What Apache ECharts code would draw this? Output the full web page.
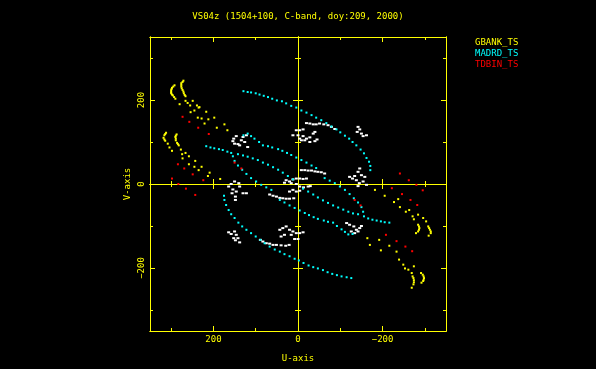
<!DOCTYPE html>
<html>
<head>
<meta charset="utf-8">
<script src="https://cdn.jsdelivr.net/npm/echarts@6/dist/echarts.min.js"></script>
<style>
html,body{margin:0;padding:0;background:#000;}
#chart{width:596px;height:369px;}
</style>
</head>
<body>
<div id="chart"></div>
<script>
// ---- data (u, v in units) ----
const titleText = 'VS04z (1504+100, C-band, doy:209, 2000)';
const seriesNames = ['GBANK_TS', 'MADRD_TS', 'TDBIN_TS'];
const majorTicks = [-200, 0, 200];
const minorTicks = [-300, -100, 100, 300];
const axisMin = -350;
const axisMax = 350;

const gbankPoints = [
  [292,235],[295,232],[298,229],[299,226],[300,223],[300,219],[300,216],[298,213],[296,211],[293,207],[290,203],
  [271,246],[273,243],[276,240],[276,236],[276,232],[275,228],[273,224],[271,220],[270,216],[268,212],[266,209],
  [280,190],[266,198],[261,193],[255,187],[249,198],[239,187],[235,182],[245,175],[233,183],[254,171],[237,158],[217,172],[228,156],[212,154],[198,158],[221,144],[192,134],[174,142],[167,128],
  [312,122],[314,119],[316,116],[318,110],[316,106],[314,103],[308,96],
  [287,118],[289,115],[290,112],[289,108],[289,104],[286,98],[284,95],[282,92],
  [304,87],[298,79],[277,82],[274,71],[266,74],[258,66],[273,61],[258,47],[243,55],[245,41],[228,41],[235,33],[209,27],[213,19],[184,12],
  [-182,-14],[-205,-28],[-227,-43],[-237,-36],[-241,-55],[-255,-66],[-263,-62],[-271,-77],[-274,-84],[-284,-73],[-296,-81],[-303,-89],
  [-284,-97],[-286,-101],[-287,-105],[-286,-109],[-284,-113],[-279,-117],
  [-308,-101],[-310,-105],[-312,-109],[-314,-113],[-314,-117],[-309,-123],
  [-164,-129],[-170,-145],[-192,-133],[-196,-158],[-216,-147],[-233,-161],[-239,-180],[-249,-192],[-253,-201],[-261,-204],[-269,-212],[-274,-196],[-291,-212],
  [-271,-220],[-273,-224],[-274,-229],[-274,-234],[-273,-239],[-269,-247],
  [-295,-216],[-297,-220],[-298,-224],[-297,-228],[-296,-231],[-292,-235]
];

const madrdPoints = [
  // long outer track (upper)
  [129,221],[119,219],[111,218],[100,216],[91,213],[81,210],[71,207],[61,203],[50,199],[38,197],[28,192],[16,186],[4,182],[-8,175],[-20,170],[-32,164],[-43,158],[-55,152],[-67,145],[-79,137],[-91,130],[-100,123],[-111,115],[-121,108],[-129,100],[-138,92],[-148,82],[-156,73],[-162,62],[-168,53],[-171,43],[-171,33],
  // long outer track (lower)
  [-126,-224],[-115,-222],[-103,-220],[-92,-217],[-81,-214],[-70,-210],[-59,-205],[-47,-201],[-36,-198],[-25,-194],[-13,-188],[-2,-182],[8,-178],[20,-172],[32,-167],[43,-161],[55,-156],[67,-149],[79,-141],[89,-133],[100,-125],[111,-117],[122,-109],[132,-101],[141,-92],[150,-81],[158,-72],[164,-62],[170,-50],[174,-38],[175,-28],
  // mid track ends
  [217,90],[207,87],[198,85],[187,83],[178,81],[167,77],[158,74],
  [-216,-92],[-205,-91],[-196,-89],[-186,-87],[-176,-85],[-166,-82],[-156,-77],
  // inner track
  [129,116],[119,120],[111,114],[103,108],[92,100],[83,92],[71,90],[61,87],[47,83],[37,79],[26,74],[16,69],[4,63],[-8,57],[-20,51],[-32,44],[-43,38],
  [-129,-119],[-119,-120],[-111,-114],[-103,-108],[-92,-100],[-83,-92],[-71,-90],[-61,-87],[-47,-83],[-37,-79],[-26,-74],[-16,-69],[-4,-63],[8,-57],[20,-51],[32,-44],[43,-38],
  // descending / ascending tracks
  [154,66],[150,55],[142,44],[132,34],[122,24],[111,14],[99,6],[87,-2],[75,-8],[63,-14],
  [-154,-66],[-150,-55],[-142,-44],[-132,-34],[-122,-24],[-111,-14],[-99,-6],[-87,2],[-75,8],[-63,14],
  // track through centre
  [142,71],[130,68],[119,65],[107,61],[95,57],[83,51],[71,46],[59,40],[47,34],[36,27],[24,19],[12,11],
  [-12,-11],[-24,-18],[-36,-25],[-47,-32],[-59,-39],[-71,-45],[-83,-51],[-95,-56],[-107,-61],[-119,-66],[-130,-70],[-142,-72]
];

const tdbinPoints = [
  [273,160],[257,148],[236,134],[211,119],[284,47],[269,37],[249,23],[298,13],[283,0],[265,-11],[243,-26],[150,51],[134,37],[224,9],
  [-241,25],[-262,9],[-222,-10],[-280,-2],[-295,-15],[-246,-24],[-266,-38],[-282,-50],[-134,-38],[-148,-51],[-208,-121],[-233,-136],[-254,-149],[-270,-160]
];

const otherPoints = [
  [146,114],[152,108],[154,102],[150,96],[142,95],[134,104],[130,112],[122,116],[126,100],[119,88],[138,92],
  [150,6],[158,0],[164,-6],[154,-13],[146,-18],[138,-6],[140,2],[130,-22],[122,-22],[148,-30],[148,-38],[156,-22],
  [164,-115],[158,-119],[150,-113],[146,-121],[152,-129],[148,-134],[142,-129],[138,-139],
  [-142,136],[-146,130],[-140,124],[-150,120],[-154,114],[-162,116],
  [-146,37],[-142,29],[-134,19],[-122,17],[-129,13],[-138,9],[-145,2],[-154,6],[-158,17],[-150,21],[-162,-2],[-142,-5],
  [-115,-93],[-122,-97],[-132,-101],[-138,-109],[-142,-113],[-146,-105],[-150,-100],[-134,-117],[-126,-113],
  [4,128],[-4,128],[-12,130],[12,116],[0,116],[-12,114],[-20,108],[-28,111],[-36,120],[-40,124],[-8,104],[-16,104],[-28,100],[-40,102],[-45,106],[-4,108],
  [28,9],[20,6],[12,11],[4,13],[-4,13],[-12,12],[-20,13],[32,3],[16,2],[4,0],[-4,-6],[-13,-8],[-24,-6],[-29,-5],[12,-14],[-4,-16],[20,-18],[4,-18],
  [43,-109],[36,-105],[28,-101],[20,-109],[12,-113],[4,-117],[-4,-117],[-12,-115],[40,-125],[32,-121],[16,-121],[8,-131],[0,-131],
  [-20,145],[-28,144],[-36,142],[-43,142],[-51,144],[-61,142],[-71,140],[-79,136],[-87,131],
  [-8,33],[-16,33],[-24,32],[-32,32],[-40,30],[-47,29],[-55,28],[-63,25],
  [67,-25],[59,-28],[51,-30],[43,-33],[36,-34],[28,-35],[20,-35],[10,-34],
  [89,-133],[83,-137],[75,-141],[67,-142],[59,-145],[51,-145],[40,-146],[29,-147],[21,-145]
];

// ---- styling ----
const YEL = '#ffff00';
const CYAN = '#00ffff';
const RED = '#ff0000';
const FONT = 'DejaVu Sans Mono';

function mkAxis(isX, gridIndex, position, ticks, len, inside, onZero, extra) {
  const a = {
    type: 'value',
    gridIndex: gridIndex,
    position: position,
    min: axisMin,
    max: axisMax,
    inverse: isX,
    axisLine: { show: true, onZero: onZero, lineStyle: { color: YEL, width: 1 } },
    axisTick: { show: true, inside: inside, length: len, customValues: ticks, lineStyle: { color: YEL, width: 1 } },
    axisLabel: { show: false },
    splitLine: { show: false }
  };
  return Object.assign(a, extra || {});
}

const fmt = function (v) { return String(v).replace('-', '\u2212'); };

const xAxes = [
  mkAxis(true, 0, 'bottom', majorTicks, 5, true, false, {
    axisLabel: { show: true, customValues: majorTicks, color: YEL, fontFamily: FONT, fontSize: 9, margin: 4, formatter: fmt },
    name: 'U-axis', nameLocation: 'middle', nameGap: 23,
    nameTextStyle: { color: YEL, fontFamily: FONT, fontSize: 9 }
  }),
  mkAxis(true, 0, 'bottom', minorTicks, 3, true, false),
  mkAxis(true, 0, 'top', majorTicks, 5, true, false),
  mkAxis(true, 0, 'top', minorTicks, 3, true, false),
  mkAxis(true, 1, 'bottom', majorTicks, 5, true, true),
  mkAxis(true, 1, 'bottom', majorTicks, 5, false, true),
  mkAxis(true, 1, 'bottom', minorTicks, 3, true, true),
  mkAxis(true, 1, 'bottom', minorTicks, 3, false, true)
];
const yAxes = [
  mkAxis(false, 0, 'left', majorTicks, 5, true, false, {
    axisLabel: { show: true, customValues: majorTicks, color: YEL, fontFamily: FONT, fontSize: 9, margin: 4, rotate: 90, formatter: fmt },
    name: 'V-axis', nameLocation: 'middle', nameGap: 18, nameRotate: 90,
    nameTextStyle: { color: YEL, fontFamily: FONT, fontSize: 9 }
  }),
  mkAxis(false, 0, 'left', minorTicks, 3, true, false),
  mkAxis(false, 0, 'right', majorTicks, 5, true, false),
  mkAxis(false, 0, 'right', minorTicks, 3, true, false),
  mkAxis(false, 1, 'left', majorTicks, 5, true, true),
  mkAxis(false, 1, 'left', majorTicks, 5, false, true),
  mkAxis(false, 1, 'left', minorTicks, 3, true, true),
  mkAxis(false, 1, 'left', minorTicks, 3, false, true)
];

function scatter(name, pts, color, size) {
  return {
    name: name, type: 'scatter', xAxisIndex: 0, yAxisIndex: 0,
    data: pts, symbol: 'rect', symbolSize: size,
    itemStyle: { color: color, opacity: 1 },
    emphasis: { disabled: true }, silent: true, z: 3
  };
}

const chart = echarts.init(document.getElementById('chart'), null, { renderer: 'canvas' });
chart.setOption({
  backgroundColor: '#000000',
  animation: false,
  title: {
    text: titleText, left: 'center', top: 7,
    textStyle: { color: YEL, fontFamily: FONT, fontSize: 9, fontWeight: 'normal' }
  },
  legend: {
    orient: 'vertical', left: 465, top: 33,
    itemWidth: 0, itemHeight: 10, itemGap: 1,
    selectedMode: false,
    textStyle: { fontFamily: FONT, fontSize: 9 },
    data: [
      { name: seriesNames[0], textStyle: { color: YEL }, itemStyle: { opacity: 0 } },
      { name: seriesNames[1], textStyle: { color: CYAN }, itemStyle: { opacity: 0 } },
      { name: seriesNames[2], textStyle: { color: RED }, itemStyle: { opacity: 0 } }
    ]
  },
  grid: [
    { left: 150, right: 150, top: 37, bottom: 38 },
    { left: 150, right: 150, top: 37, bottom: 38 }
  ],
  xAxis: xAxes,
  yAxis: yAxes,
  series: [
    scatter('other', otherPoints, '#ffffff', [3, 2]),
    scatter(seriesNames[1], madrdPoints, CYAN, 2),
    scatter(seriesNames[0], gbankPoints, YEL, 2),
    scatter(seriesNames[2], tdbinPoints, RED, 2)
  ]
});
</script>
</body>
</html>
